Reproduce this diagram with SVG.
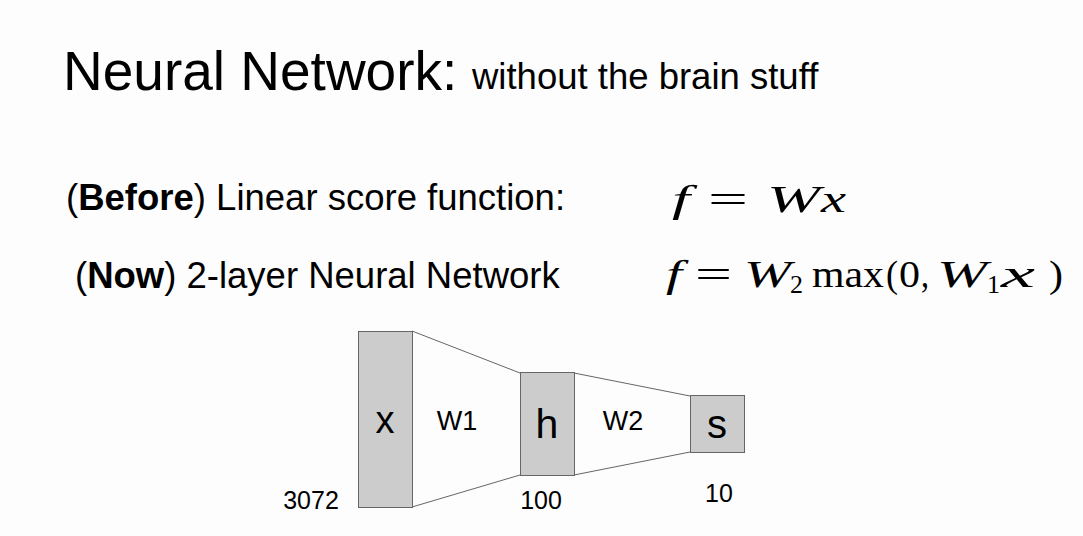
<svg xmlns="http://www.w3.org/2000/svg" width="1083" height="536" viewBox="0 0 1083 536">
<style>
.sans{font-family:"Liberation Sans",Arial,sans-serif;fill:#000}
.math{font-family:"Liberation Serif","Times New Roman",serif;fill:#000;font-size:38px}
.it{font-style:italic}
.sub{font-size:26px}
.box{fill:#cccccc;stroke:#666;stroke-width:1}
.conn{stroke:#666;stroke-width:1;fill:none}
.lbl{font-size:27px}
.num{font-size:25px}
</style>
<rect width="1083" height="536" fill="#fdfdfd"/>
<text class="sans" x="63" y="90" font-size="55">Neural Network:</text>
<text class="sans" x="472" y="89" font-size="36.5">without the brain stuff</text>
<text class="sans" x="66" y="210" font-size="36.5">(<tspan font-weight="bold">Before</tspan>) Linear score function:</text>
<text class="sans" x="75" y="288" font-size="36.5">(<tspan font-weight="bold">Now</tspan>) 2-layer Neural Network</text>
<g id="formula-before">
<text class="math it" x="672" y="212" textLength="18" lengthAdjust="spacingAndGlyphs">f</text>
<text class="math" x="708" y="212" textLength="40" lengthAdjust="spacingAndGlyphs">=</text>
<text class="math it" x="767" y="212" textLength="53" lengthAdjust="spacingAndGlyphs">W</text>
<text class="math it" x="821" y="212" textLength="25" lengthAdjust="spacingAndGlyphs">x</text>
</g>
<g id="formula-now">
<text class="math it" x="666" y="287" textLength="16" lengthAdjust="spacingAndGlyphs">f</text>
<text class="math" x="695" y="287" textLength="37" lengthAdjust="spacingAndGlyphs">=</text>
<text class="math it" x="744" y="287" textLength="47" lengthAdjust="spacingAndGlyphs">W</text>
<text class="math sub" x="790" y="293" textLength="13" lengthAdjust="spacingAndGlyphs">2</text>
<text class="math" x="812" y="287" textLength="72" lengthAdjust="spacingAndGlyphs">max</text>
<text class="math" x="886" y="287" textLength="12" lengthAdjust="spacingAndGlyphs">(</text>
<text class="math" x="899" y="287" textLength="21" lengthAdjust="spacingAndGlyphs">0</text>
<text class="math" x="921" y="287" textLength="8" lengthAdjust="spacingAndGlyphs">,</text>
<text class="math it" x="937" y="287" textLength="50" lengthAdjust="spacingAndGlyphs">W</text>
<text class="math sub" x="987" y="293" textLength="13" lengthAdjust="spacingAndGlyphs">1</text>
<text class="math it" x="1001" y="287" textLength="34" lengthAdjust="spacingAndGlyphs">x</text>
<text class="math" x="1049" y="287" textLength="14" lengthAdjust="spacingAndGlyphs">)</text>
</g>
<g id="connectors">
<line class="conn" x1="412" y1="331" x2="520" y2="373"/>
<line class="conn" x1="412" y1="507" x2="520" y2="475"/>
<line class="conn" x1="574" y1="373" x2="690" y2="396"/>
<line class="conn" x1="574" y1="475" x2="690" y2="452"/>
</g>
<g id="node-x">
<rect class="box" x="358.5" y="331.5" width="54" height="176"/>
<text class="sans" x="385" y="433" font-size="38" text-anchor="middle">x</text>
<text class="sans num" x="311" y="509" text-anchor="middle">3072</text>
</g>
<g id="label-w1"><text class="sans lbl" x="457" y="430" text-anchor="middle">W1</text></g>
<g id="node-h">
<rect class="box" x="520.5" y="372.5" width="54" height="103"/>
<text class="sans" x="547" y="438" font-size="41" text-anchor="middle">h</text>
<text class="sans num" x="541" y="509" text-anchor="middle">100</text>
</g>
<g id="label-w2"><text class="sans lbl" x="623" y="430" text-anchor="middle">W2</text></g>
<g id="node-s">
<rect class="box" x="690.5" y="395.5" width="54" height="57"/>
<text class="sans" x="717" y="438" font-size="40" text-anchor="middle">s</text>
<text class="sans num" x="719" y="502" text-anchor="middle">10</text>
</g>
</svg>
